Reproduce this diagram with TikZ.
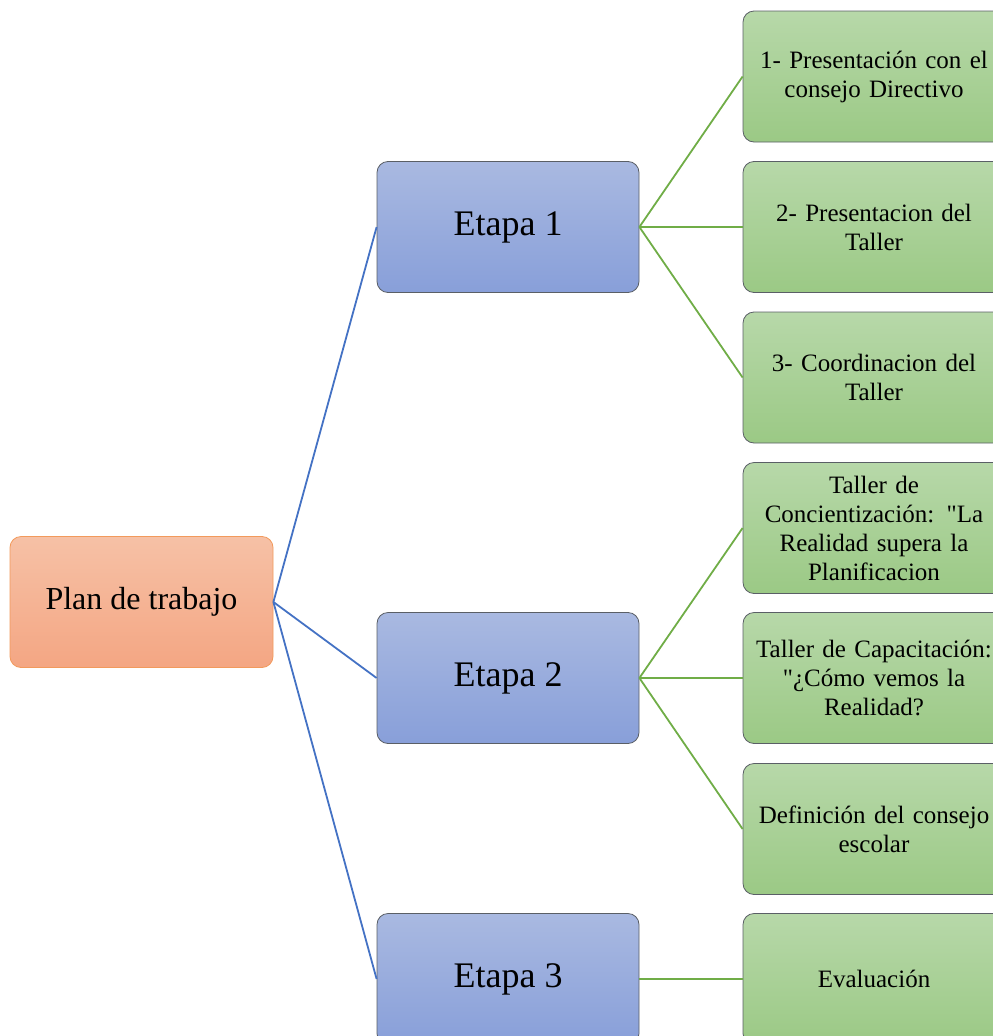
\documentclass[tikz,border=0pt]{standalone}
\usepackage{fontspec}
\setmainfont{Liberation Serif}
\definecolor{orT}{HTML}{F6C1A6}
\definecolor{orB}{HTML}{F4A683}
\definecolor{orD}{HTML}{F29A5C}
\definecolor{blT}{HTML}{A9B9E1}
\definecolor{blB}{HTML}{889FD9}
\definecolor{grT}{HTML}{B7D8A9}
\definecolor{grB}{HTML}{9BC985}
\definecolor{edge}{HTML}{5A5F66}
\definecolor{lnB}{HTML}{4472C4}
\definecolor{lnG}{HTML}{70AD47}
\begin{document}
\begin{tikzpicture}[x=1pt,y=-1pt,
  rootbox/.style={draw=orD, line width=0.8pt, top color=orT, bottom color=orB, rounded corners=11pt,
    minimum width=263pt, minimum height=131pt, inner sep=0pt, font=\fontsize{32}{38}\selectfont},
  stagebox/.style={draw=edge, line width=0.8pt, top color=blT, bottom color=blB, rounded corners=11pt,
    minimum width=262pt, minimum height=131pt, inner sep=0pt, font=\fontsize{36}{42}\selectfont},
  leafbox/.style={draw=edge, line width=0.8pt, top color=grT, bottom color=grB, rounded corners=11pt,
    minimum width=262pt, minimum height=131pt, inner sep=0pt, text width=262pt, align=center,
    font=\fontsize{25}{29}\selectfont},
  blink/.style={draw=lnB, line width=1.8pt},
  glink/.style={draw=lnG, line width=1.8pt}]
\useasboundingbox (0,0) rectangle (993,1036);
\clip (0,0) rectangle (993,1036);
\node[rootbox] (root) at (141.5,602) {Plan de trabajo};
\node[stagebox] (e1) at (508,227) {Etapa 1};
\node[stagebox] (e2) at (508,678) {Etapa 2};
\node[stagebox] (e3) at (508,979) {Etapa 3};
\node[leafbox] (g1) at (874,76.5) {1- Presentación con el\\consejo Directivo};
\node[leafbox] (g2) at (874,227) {2- Presentacion del\\Taller};
\node[leafbox] (g3) at (874,377.5) {3- Coordinacion del\\Taller};
\node[leafbox] (g4) at (874,528) {Taller de\\Concientización: \textquotedbl La\\Realidad supera la\\Planificacion};
\node[leafbox] (g5) at (874,678) {Taller de Capacitación:\\\textquotedbl ¿Cómo vemos la\\Realidad?};
\node[leafbox] (g6) at (874,829) {Definición del consejo\\escolar};
\node[leafbox] (g7) at (874,979) {Evaluación};
\draw[blink] (root.east) -- (e1.west);
\draw[blink] (root.east) -- (e2.west);
\draw[blink] (root.east) -- (e3.west);
\foreach \g in {g1,g2,g3} \draw[glink] (e1.east) -- (\g.west);
\foreach \g in {g4,g5,g6} \draw[glink] (e2.east) -- (\g.west);
\draw[glink] (e3.east) -- (g7.west);
\end{tikzpicture}
\end{document}
